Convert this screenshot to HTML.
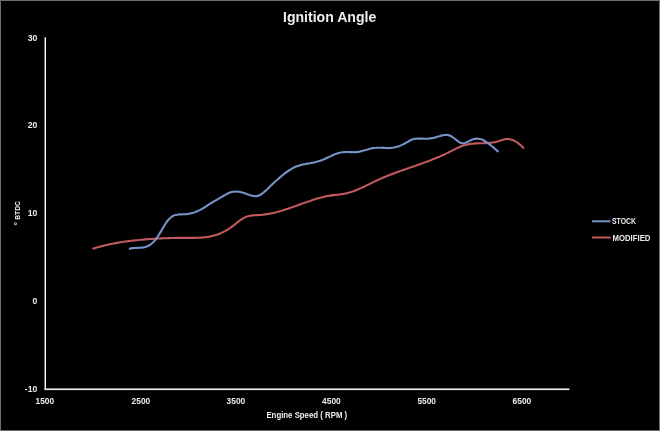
<!DOCTYPE html>
<html><head><meta charset="utf-8"><title>Ignition Angle</title>
<style>
html,body{margin:0;padding:0;background:#000;width:660px;height:431px;overflow:hidden}
svg{display:block}
text{font-family:"Liberation Sans", Arial, sans-serif;font-weight:bold;font-size:8px;fill:#EDEDED}
.t{font-size:8.7px}
.a{font-size:8.6px}
.l{font-size:8.3px}
</style></head><body>
<svg width="660" height="431" viewBox="0 0 660 431">
<rect x="0" y="0" width="660" height="431" fill="#6d6d6d"/>
<rect x="1" y="1" width="658" height="429" fill="#000"/>
<rect x="44.55" y="37.4" width="1.45" height="352.4" fill="#FFFFFF"/>
<rect x="44.55" y="388.4" width="524.9" height="1.7" fill="#EAEAEA"/>
<text class="t" x="37.4" y="41.00" text-anchor="end">30</text>
<text class="t" x="37.4" y="128.30" text-anchor="end">20</text>
<text class="t" x="37.4" y="216.00" text-anchor="end">10</text>
<text class="t" x="37.4" y="303.90" text-anchor="end">0</text>
<text class="t" x="37.4" y="391.80" text-anchor="end">-10</text>
<text class="t" x="35.5" y="403.5" textLength="18.6" lengthAdjust="spacingAndGlyphs">1500</text>
<text class="t" x="131.6" y="403.5" textLength="18.6" lengthAdjust="spacingAndGlyphs">2500</text>
<text class="t" x="226.6" y="403.5" textLength="18.6" lengthAdjust="spacingAndGlyphs">3500</text>
<text class="t" x="322.1" y="403.5" textLength="18.6" lengthAdjust="spacingAndGlyphs">4500</text>
<text class="t" x="417.4" y="403.5" textLength="18.6" lengthAdjust="spacingAndGlyphs">5500</text>
<text class="t" x="512.6" y="403.5" textLength="18.6" lengthAdjust="spacingAndGlyphs">6500</text>
<text x="283.0" y="22.0" style="font-size:13.8px" textLength="93.3" lengthAdjust="spacingAndGlyphs">Ignition Angle</text>
<text class="a" x="266.4" y="417.5" textLength="80.8" lengthAdjust="spacingAndGlyphs">Engine Speed ( RPM )</text>
<text class="a" transform="translate(20.2,225.6) rotate(-90)" x="0" y="0"><tspan>° </tspan><tspan x="5.8" style="font-size:7.6px" textLength="18.7" lengthAdjust="spacingAndGlyphs">BTDC</tspan></text>
<rect x="591.9" y="220.3" width="18.6" height="2" fill="#7693C8"/>
<rect x="591.9" y="236.5" width="18.8" height="2" fill="#C05A5F"/>
<text class="l" x="612" y="224.4" textLength="24.1" lengthAdjust="spacingAndGlyphs">STOCK</text>
<text class="l" x="612.5" y="240.6" textLength="37.9" lengthAdjust="spacingAndGlyphs">MODIFIED</text>
<path d="M92.5,248.8 C92.8,248.7 93.8,248.4 94.5,248.2 C95.2,248.0 95.8,247.8 96.5,247.6 C97.2,247.4 97.8,247.2 98.5,247.0 C99.2,246.8 99.9,246.6 100.5,246.4 C101.2,246.3 101.9,246.1 102.5,245.9 C103.2,245.8 103.9,245.6 104.5,245.4 C105.2,245.3 105.9,245.1 106.5,245.0 C107.2,244.8 107.9,244.7 108.5,244.5 C109.2,244.4 109.9,244.2 110.6,244.1 C111.2,243.9 111.9,243.8 112.6,243.7 C113.2,243.5 113.9,243.4 114.6,243.3 C115.2,243.2 115.9,243.0 116.6,242.9 C117.2,242.8 117.9,242.7 118.6,242.6 C119.2,242.5 119.9,242.3 120.6,242.2 C121.3,242.1 121.9,242.0 122.6,241.9 C123.3,241.8 123.9,241.7 124.6,241.6 C125.3,241.5 125.9,241.4 126.6,241.4 C127.3,241.3 127.9,241.2 128.6,241.1 C129.3,241.0 129.9,240.9 130.6,240.8 C131.3,240.8 132.0,240.7 132.6,240.6 C133.3,240.5 134.0,240.4 134.6,240.4 C135.3,240.3 136.0,240.2 136.6,240.2 C137.3,240.1 138.0,240.0 138.6,240.0 C139.3,239.9 140.0,239.8 140.6,239.8 C141.3,239.7 142.0,239.7 142.7,239.6 C143.3,239.5 144.0,239.5 144.7,239.4 C145.3,239.4 146.0,239.3 146.7,239.3 C147.3,239.2 148.0,239.2 148.7,239.1 C149.3,239.1 150.0,239.0 150.7,239.0 C151.3,238.9 152.0,238.9 152.7,238.9 C153.4,238.8 154.0,238.8 154.7,238.7 C155.4,238.7 156.0,238.7 156.7,238.6 C157.4,238.6 158.0,238.5 158.7,238.5 C159.4,238.5 160.0,238.4 160.7,238.4 C161.4,238.4 162.0,238.4 162.7,238.3 C163.4,238.3 164.0,238.3 164.7,238.2 C165.4,238.2 166.1,238.2 166.7,238.2 C167.4,238.1 168.1,238.1 168.7,238.1 C169.4,238.1 170.1,238.1 170.7,238.0 C171.4,238.0 172.1,238.0 172.7,238.0 C173.4,238.0 174.1,238.0 174.7,238.0 C175.4,237.9 176.1,237.9 176.8,237.9 C177.4,237.9 178.1,237.9 178.8,237.9 C179.4,237.9 180.1,237.9 180.8,237.9 C181.4,237.9 182.1,237.9 182.8,237.9 C183.4,237.9 184.1,237.9 184.8,237.9 C185.4,237.9 186.1,237.9 186.8,237.9 C187.5,237.9 188.1,237.9 188.8,237.9 C189.5,237.9 190.1,237.9 190.8,237.9 C191.5,237.9 192.1,237.9 192.8,237.9 C193.5,237.9 194.1,237.9 194.8,237.9 C195.5,237.9 196.1,237.9 196.8,237.8 C197.5,237.8 198.2,237.8 198.8,237.8 C199.5,237.7 200.2,237.7 200.8,237.6 C201.5,237.6 202.2,237.5 202.8,237.5 C203.5,237.4 204.2,237.4 204.8,237.3 C205.5,237.2 206.2,237.1 206.8,237.0 C207.5,236.9 208.2,236.8 208.9,236.7 C209.5,236.6 210.2,236.5 210.9,236.3 C211.5,236.2 212.2,236.0 212.9,235.9 C213.5,235.7 214.2,235.5 214.9,235.3 C215.5,235.1 216.2,234.9 216.9,234.7 C217.5,234.5 218.2,234.2 218.9,234.0 C219.5,233.7 220.2,233.4 220.9,233.2 C221.6,232.9 222.2,232.6 222.9,232.2 C223.6,231.9 224.2,231.6 224.9,231.2 C225.6,230.8 226.2,230.5 226.9,230.1 C227.6,229.7 228.2,229.2 228.9,228.8 C229.6,228.3 230.2,227.9 230.9,227.4 C231.6,226.9 232.3,226.4 232.9,225.9 C233.6,225.4 234.3,224.9 234.9,224.3 C235.6,223.8 236.3,223.3 236.9,222.7 C237.6,222.2 238.3,221.7 238.9,221.2 C239.6,220.7 240.3,220.2 240.9,219.7 C241.6,219.3 242.3,218.8 243.0,218.5 C243.6,218.1 244.3,217.7 245.0,217.4 C245.6,217.1 246.3,216.8 247.0,216.6 C247.6,216.4 248.3,216.2 249.0,216.0 C249.6,215.9 250.3,215.7 251.0,215.6 C251.6,215.5 252.3,215.5 253.0,215.4 C253.7,215.3 254.3,215.3 255.0,215.2 C255.7,215.2 256.3,215.2 257.0,215.1 C257.7,215.1 258.3,215.1 259.0,215.0 C259.7,215.0 260.3,214.9 261.0,214.9 C261.7,214.8 262.3,214.8 263.0,214.7 C263.7,214.6 264.4,214.5 265.0,214.4 C265.7,214.4 266.4,214.3 267.0,214.1 C267.7,214.0 268.4,213.9 269.0,213.8 C269.7,213.7 270.4,213.5 271.0,213.4 C271.7,213.3 272.4,213.1 273.0,213.0 C273.7,212.8 274.4,212.7 275.1,212.5 C275.7,212.3 276.4,212.2 277.1,212.0 C277.7,211.8 278.4,211.6 279.1,211.4 C279.7,211.3 280.4,211.1 281.1,210.9 C281.7,210.7 282.4,210.5 283.1,210.3 C283.7,210.1 284.4,209.8 285.1,209.6 C285.7,209.4 286.4,209.2 287.1,209.0 C287.8,208.8 288.4,208.5 289.1,208.3 C289.8,208.1 290.4,207.9 291.1,207.6 C291.8,207.4 292.4,207.2 293.1,206.9 C293.8,206.7 294.4,206.4 295.1,206.2 C295.8,206.0 296.4,205.7 297.1,205.5 C297.8,205.3 298.5,205.0 299.1,204.8 C299.8,204.5 300.5,204.3 301.1,204.0 C301.8,203.8 302.5,203.6 303.1,203.3 C303.8,203.1 304.5,202.8 305.1,202.6 C305.8,202.4 306.5,202.1 307.1,201.9 C307.8,201.7 308.5,201.4 309.2,201.2 C309.8,201.0 310.5,200.7 311.2,200.5 C311.8,200.3 312.5,200.0 313.2,199.8 C313.8,199.6 314.5,199.4 315.2,199.2 C315.8,199.0 316.5,198.8 317.2,198.6 C317.8,198.3 318.5,198.2 319.2,198.0 C319.9,197.8 320.5,197.6 321.2,197.4 C321.9,197.2 322.5,197.1 323.2,196.9 C323.9,196.7 324.5,196.6 325.2,196.4 C325.9,196.3 326.5,196.1 327.2,196.0 C327.9,195.9 328.5,195.8 329.2,195.7 C329.9,195.6 330.6,195.5 331.2,195.4 C331.9,195.3 332.6,195.2 333.2,195.1 C333.9,195.1 334.6,195.0 335.2,194.9 C335.9,194.9 336.6,194.8 337.2,194.7 C337.9,194.7 338.6,194.6 339.2,194.5 C339.9,194.4 340.6,194.4 341.2,194.3 C341.9,194.2 342.6,194.1 343.3,194.0 C343.9,193.9 344.6,193.7 345.3,193.6 C345.9,193.5 346.6,193.3 347.3,193.1 C347.9,193.0 348.6,192.8 349.3,192.6 C349.9,192.4 350.6,192.2 351.3,192.0 C351.9,191.7 352.6,191.5 353.3,191.3 C354.0,191.0 354.6,190.8 355.3,190.5 C356.0,190.2 356.6,190.0 357.3,189.7 C358.0,189.4 358.6,189.1 359.3,188.8 C360.0,188.5 360.6,188.2 361.3,187.9 C362.0,187.6 362.6,187.3 363.3,187.0 C364.0,186.7 364.7,186.3 365.3,186.0 C366.0,185.7 366.7,185.4 367.3,185.0 C368.0,184.7 368.7,184.4 369.3,184.1 C370.0,183.7 370.7,183.4 371.3,183.1 C372.0,182.8 372.7,182.4 373.3,182.1 C374.0,181.8 374.7,181.5 375.4,181.1 C376.0,180.8 376.7,180.5 377.4,180.2 C378.0,179.9 378.7,179.6 379.4,179.3 C380.0,179.0 380.7,178.7 381.4,178.4 C382.0,178.1 382.7,177.8 383.4,177.5 C384.0,177.3 384.7,177.0 385.4,176.7 C386.1,176.4 386.7,176.2 387.4,175.9 C388.1,175.6 388.7,175.4 389.4,175.1 C390.1,174.8 390.7,174.6 391.4,174.3 C392.1,174.1 392.7,173.8 393.4,173.5 C394.1,173.3 394.7,173.0 395.4,172.8 C396.1,172.5 396.8,172.3 397.4,172.1 C398.1,171.8 398.8,171.6 399.4,171.3 C400.1,171.1 400.8,170.8 401.4,170.6 C402.1,170.4 402.8,170.1 403.4,169.9 C404.1,169.7 404.8,169.4 405.4,169.2 C406.1,169.0 406.8,168.7 407.4,168.5 C408.1,168.3 408.8,168.0 409.5,167.8 C410.1,167.6 410.8,167.3 411.5,167.1 C412.1,166.9 412.8,166.6 413.5,166.4 C414.1,166.2 414.8,165.9 415.5,165.7 C416.1,165.5 416.8,165.2 417.5,165.0 C418.1,164.8 418.8,164.5 419.5,164.3 C420.2,164.1 420.8,163.8 421.5,163.6 C422.2,163.3 422.8,163.1 423.5,162.9 C424.2,162.6 424.8,162.4 425.5,162.1 C426.2,161.9 426.8,161.6 427.5,161.4 C428.2,161.1 428.8,160.9 429.5,160.6 C430.2,160.4 430.9,160.1 431.5,159.9 C432.2,159.6 432.9,159.3 433.5,159.1 C434.2,158.8 434.9,158.5 435.5,158.3 C436.2,158.0 436.9,157.7 437.5,157.4 C438.2,157.1 438.9,156.9 439.5,156.6 C440.2,156.3 440.9,156.0 441.6,155.7 C442.2,155.4 442.9,155.1 443.6,154.8 C444.2,154.5 444.9,154.2 445.6,153.9 C446.2,153.6 446.9,153.2 447.6,152.9 C448.2,152.6 448.9,152.3 449.6,151.9 C450.2,151.6 450.9,151.3 451.6,150.9 C452.3,150.6 452.9,150.2 453.6,149.9 C454.3,149.5 454.9,149.2 455.6,148.9 C456.3,148.5 456.9,148.2 457.6,147.9 C458.3,147.6 458.9,147.3 459.6,147.0 C460.3,146.7 460.9,146.5 461.6,146.2 C462.3,146.0 462.9,145.7 463.6,145.5 C464.3,145.3 465.0,145.1 465.6,145.0 C466.3,144.8 467.0,144.6 467.6,144.5 C468.3,144.3 469.0,144.2 469.6,144.1 C470.3,144.0 471.0,143.9 471.6,143.8 C472.3,143.7 473.0,143.6 473.6,143.6 C474.3,143.5 475.0,143.4 475.7,143.4 C476.3,143.4 477.0,143.3 477.7,143.3 C478.3,143.3 479.0,143.2 479.7,143.2 C480.3,143.2 481.0,143.2 481.7,143.2 C482.3,143.2 483.0,143.2 483.7,143.2 C484.3,143.1 485.0,143.1 485.7,143.1 C486.4,143.1 487.0,143.1 487.7,143.0 C488.4,143.0 489.0,143.0 489.7,142.9 C490.4,142.8 491.0,142.8 491.7,142.7 C492.4,142.6 493.0,142.5 493.7,142.4 C494.4,142.3 495.0,142.2 495.7,142.0 C496.4,141.8 497.1,141.7 497.7,141.5 C498.4,141.3 499.1,141.0 499.7,140.8 C500.4,140.6 501.1,140.3 501.7,140.1 C502.4,139.9 503.1,139.7 503.7,139.5 C504.4,139.4 505.1,139.2 505.7,139.1 C506.4,139.1 507.1,139.0 507.8,139.0 C508.4,139.1 509.1,139.1 509.8,139.2 C510.4,139.3 511.1,139.5 511.8,139.7 C512.4,139.9 513.1,140.2 513.8,140.5 C514.4,140.8 515.1,141.2 515.8,141.5 C516.4,141.9 517.1,142.4 517.8,142.9 C518.5,143.4 519.1,143.9 519.8,144.5 C520.5,145.0 521.1,145.6 521.8,146.3 C522.5,147.0 523.5,148.1 523.8,148.4" fill="none" stroke="#C05A5F" stroke-width="2.1" stroke-linecap="butt" stroke-linejoin="round"/>
<path d="M128.9,248.9 C129.2,248.8 130.2,248.5 130.9,248.4 C131.6,248.3 132.2,248.2 132.9,248.1 C133.6,248.0 134.3,248.0 134.9,248.0 C135.6,247.9 136.3,247.9 136.9,247.9 C137.6,247.9 138.3,247.8 138.9,247.8 C139.6,247.8 140.3,247.8 140.9,247.7 C141.6,247.6 142.3,247.6 143.0,247.5 C143.6,247.4 144.3,247.2 145.0,247.1 C145.6,246.9 146.3,246.7 147.0,246.4 C147.6,246.2 148.3,245.9 149.0,245.5 C149.7,245.1 150.3,244.7 151.0,244.2 C151.7,243.7 152.3,243.1 153.0,242.5 C153.7,241.8 154.3,241.1 155.0,240.3 C155.7,239.5 156.3,238.6 157.0,237.6 C157.7,236.7 158.4,235.7 159.0,234.6 C159.7,233.5 160.4,232.4 161.0,231.3 C161.7,230.1 162.4,229.0 163.0,227.8 C163.7,226.7 164.4,225.6 165.0,224.5 C165.7,223.5 166.4,222.4 167.1,221.5 C167.7,220.6 168.4,219.8 169.1,219.1 C169.7,218.4 170.4,217.8 171.1,217.2 C171.7,216.7 172.4,216.3 173.1,216.0 C173.7,215.6 174.4,215.3 175.1,215.1 C175.8,214.9 176.4,214.8 177.1,214.7 C177.8,214.5 178.4,214.5 179.1,214.4 C179.8,214.4 180.4,214.4 181.1,214.4 C181.8,214.3 182.5,214.3 183.1,214.3 C183.8,214.3 184.5,214.3 185.1,214.2 C185.8,214.2 186.5,214.1 187.1,214.0 C187.8,213.9 188.5,213.8 189.1,213.7 C189.8,213.6 190.5,213.5 191.2,213.3 C191.8,213.2 192.5,213.0 193.2,212.8 C193.8,212.6 194.5,212.4 195.2,212.1 C195.8,211.9 196.5,211.6 197.2,211.3 C197.8,211.0 198.5,210.7 199.2,210.4 C199.9,210.1 200.5,209.7 201.2,209.3 C201.9,209.0 202.5,208.6 203.2,208.2 C203.9,207.8 204.5,207.3 205.2,206.9 C205.9,206.5 206.5,206.1 207.2,205.6 C207.9,205.2 208.6,204.7 209.2,204.3 C209.9,203.9 210.6,203.4 211.2,203.0 C211.9,202.6 212.6,202.2 213.2,201.8 C213.9,201.4 214.6,201.0 215.3,200.6 C215.9,200.2 216.6,199.9 217.3,199.5 C217.9,199.1 218.6,198.8 219.3,198.4 C219.9,198.0 220.6,197.6 221.3,197.2 C221.9,196.8 222.6,196.4 223.3,196.0 C224.0,195.6 224.6,195.2 225.3,194.9 C226.0,194.5 226.6,194.1 227.3,193.8 C228.0,193.4 228.6,193.1 229.3,192.8 C230.0,192.6 230.6,192.3 231.3,192.1 C232.0,191.9 232.7,191.8 233.3,191.7 C234.0,191.6 234.7,191.5 235.3,191.5 C236.0,191.5 236.7,191.5 237.3,191.6 C238.0,191.6 238.7,191.7 239.3,191.8 C240.0,192.0 240.7,192.1 241.4,192.3 C242.0,192.4 242.7,192.6 243.4,192.8 C244.0,193.0 244.7,193.3 245.4,193.5 C246.0,193.7 246.7,194.0 247.4,194.3 C248.1,194.5 248.7,194.7 249.4,195.0 C250.1,195.2 250.7,195.4 251.4,195.6 C252.1,195.8 252.7,195.9 253.4,196.0 C254.1,196.1 254.7,196.2 255.4,196.2 C256.1,196.1 256.8,196.1 257.4,195.9 C258.1,195.8 258.8,195.6 259.4,195.3 C260.1,195.0 260.8,194.6 261.4,194.1 C262.1,193.7 262.8,193.2 263.4,192.6 C264.1,192.1 264.8,191.5 265.5,190.9 C266.1,190.3 266.8,189.6 267.5,189.0 C268.1,188.3 268.8,187.6 269.5,186.9 C270.1,186.3 270.8,185.6 271.5,185.0 C272.1,184.3 272.8,183.7 273.5,183.1 C274.2,182.5 274.8,181.9 275.5,181.3 C276.2,180.7 276.8,180.1 277.5,179.5 C278.2,179.0 278.8,178.4 279.5,177.8 C280.2,177.3 280.9,176.7 281.5,176.1 C282.2,175.6 282.9,175.0 283.5,174.5 C284.2,174.0 284.9,173.4 285.5,172.9 C286.2,172.4 286.9,171.9 287.5,171.4 C288.2,171.0 288.9,170.5 289.6,170.1 C290.2,169.6 290.9,169.2 291.6,168.8 C292.2,168.4 292.9,168.1 293.6,167.7 C294.2,167.4 294.9,167.1 295.6,166.8 C296.2,166.5 296.9,166.3 297.6,166.0 C298.3,165.8 298.9,165.6 299.6,165.4 C300.3,165.2 300.9,165.0 301.6,164.8 C302.3,164.7 302.9,164.5 303.6,164.4 C304.3,164.2 304.9,164.1 305.6,164.0 C306.3,163.8 307.0,163.7 307.6,163.6 C308.3,163.5 309.0,163.4 309.6,163.3 C310.3,163.1 311.0,163.0 311.6,162.9 C312.3,162.8 313.0,162.6 313.6,162.5 C314.3,162.4 315.0,162.2 315.7,162.1 C316.3,161.9 317.0,161.7 317.7,161.5 C318.3,161.4 319.0,161.2 319.7,160.9 C320.3,160.7 321.0,160.5 321.7,160.2 C322.4,159.9 323.0,159.7 323.7,159.4 C324.4,159.1 325.0,158.8 325.7,158.5 C326.4,158.2 327.0,157.8 327.7,157.5 C328.4,157.2 329.0,156.9 329.7,156.6 C330.4,156.2 331.1,155.9 331.7,155.6 C332.4,155.3 333.1,155.0 333.7,154.7 C334.4,154.5 335.1,154.2 335.7,153.9 C336.4,153.7 337.1,153.4 337.7,153.2 C338.4,153.0 339.1,152.8 339.8,152.7 C340.4,152.5 341.1,152.4 341.8,152.3 C342.4,152.2 343.1,152.1 343.8,152.1 C344.4,152.0 345.1,152.0 345.8,152.0 C346.4,152.0 347.1,152.0 347.8,152.0 C348.5,152.0 349.1,152.0 349.8,152.1 C350.5,152.1 351.1,152.1 351.8,152.1 C352.5,152.2 353.1,152.2 353.8,152.2 C354.5,152.2 355.2,152.2 355.8,152.1 C356.5,152.1 357.2,152.0 357.8,151.9 C358.5,151.9 359.2,151.7 359.8,151.6 C360.5,151.5 361.2,151.3 361.8,151.1 C362.5,151.0 363.2,150.8 363.9,150.6 C364.5,150.4 365.2,150.2 365.9,150.0 C366.5,149.8 367.2,149.6 367.9,149.4 C368.5,149.2 369.2,149.0 369.9,148.8 C370.5,148.6 371.2,148.5 371.9,148.3 C372.6,148.2 373.2,148.1 373.9,148.0 C374.6,147.9 375.2,147.8 375.9,147.8 C376.6,147.7 377.2,147.7 377.9,147.7 C378.6,147.7 379.2,147.7 379.9,147.7 C380.6,147.7 381.3,147.8 381.9,147.8 C382.6,147.8 383.3,147.9 383.9,147.9 C384.6,147.9 385.3,148.0 385.9,148.0 C386.6,148.0 387.3,148.1 388.0,148.1 C388.6,148.1 389.3,148.0 390.0,148.0 C390.6,148.0 391.3,147.9 392.0,147.8 C392.6,147.8 393.3,147.7 394.0,147.5 C394.6,147.4 395.3,147.3 396.0,147.1 C396.7,146.9 397.3,146.7 398.0,146.5 C398.7,146.3 399.3,146.0 400.0,145.8 C400.7,145.5 401.3,145.2 402.0,144.9 C402.7,144.6 403.3,144.3 404.0,143.9 C404.7,143.5 405.4,143.1 406.0,142.8 C406.7,142.4 407.4,142.0 408.0,141.6 C408.7,141.2 409.4,140.8 410.0,140.5 C410.7,140.1 411.4,139.8 412.0,139.5 C412.7,139.3 413.4,139.1 414.1,138.9 C414.7,138.8 415.4,138.7 416.1,138.7 C416.7,138.6 417.4,138.6 418.1,138.6 C418.7,138.6 419.4,138.6 420.1,138.6 C420.8,138.6 421.4,138.6 422.1,138.6 C422.8,138.6 423.4,138.7 424.1,138.7 C424.8,138.7 425.4,138.7 426.1,138.7 C426.8,138.6 427.4,138.6 428.1,138.6 C428.8,138.5 429.5,138.5 430.1,138.4 C430.8,138.3 431.5,138.3 432.1,138.1 C432.8,138.0 433.5,137.9 434.1,137.7 C434.8,137.6 435.5,137.4 436.1,137.2 C436.8,137.0 437.5,136.7 438.2,136.5 C438.8,136.3 439.5,136.1 440.2,135.9 C440.8,135.7 441.5,135.5 442.2,135.4 C442.8,135.2 443.5,135.1 444.2,135.0 C444.8,135.0 445.5,134.9 446.2,134.9 C446.9,134.9 447.5,135.0 448.2,135.1 C448.9,135.2 449.5,135.4 450.2,135.7 C450.9,136.0 451.5,136.4 452.2,136.8 C452.9,137.2 453.6,137.7 454.2,138.2 C454.9,138.8 455.6,139.4 456.2,139.9 C456.9,140.4 457.6,141.0 458.2,141.4 C458.9,141.9 459.6,142.4 460.2,142.7 C460.9,143.0 461.6,143.2 462.3,143.3 C462.9,143.4 463.6,143.4 464.3,143.2 C464.9,143.1 465.6,142.8 466.3,142.5 C466.9,142.2 467.6,141.9 468.3,141.5 C468.9,141.2 469.6,140.8 470.3,140.4 C471.0,140.1 471.6,139.8 472.3,139.5 C473.0,139.3 473.6,139.0 474.3,138.9 C475.0,138.7 475.6,138.6 476.3,138.6 C477.0,138.6 477.6,138.6 478.3,138.7 C479.0,138.8 479.7,138.9 480.3,139.1 C481.0,139.3 481.7,139.5 482.3,139.8 C483.0,140.1 483.7,140.4 484.3,140.8 C485.0,141.1 485.7,141.6 486.4,142.0 C487.0,142.4 487.7,142.9 488.4,143.4 C489.0,143.9 489.7,144.4 490.4,144.9 C491.0,145.5 491.7,146.0 492.4,146.6 C493.0,147.2 493.7,147.8 494.4,148.4 C495.1,148.9 495.7,149.5 496.4,150.1 C497.1,150.7 498.1,151.6 498.4,151.9" fill="none" stroke="#7693C8" stroke-width="2.1" stroke-linecap="butt" stroke-linejoin="round"/>
</svg>
</body></html>
